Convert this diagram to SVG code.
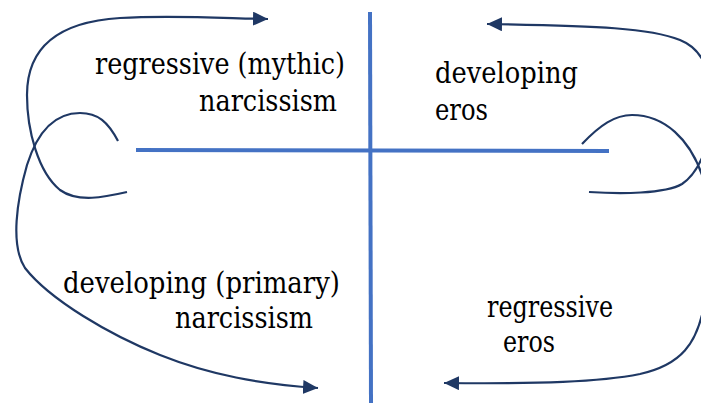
<svg xmlns="http://www.w3.org/2000/svg" width="701" height="403" viewBox="0 0 701 403">
<style>
.axis{stroke:#4472C4;stroke-width:4;fill:none}
.conn{stroke:#1F3864;stroke-width:2.2;fill:none}
text{font-family:'DejaVu Serif','Liberation Serif',serif;font-size:30px;fill:#000}
</style>
<defs>
<marker id="arr" markerUnits="userSpaceOnUse" markerWidth="16" markerHeight="16" refX="15" refY="7" orient="auto">
<path d="M0,0 L15,7 L0,14 Z" fill="#1F3864"/>
</marker>
</defs>
<rect width="701" height="403" fill="#fff"/>
<g id="axes">
<line class="axis" x1="136" y1="150" x2="609" y2="151"/>
<line class="axis" x1="370" y1="12" x2="371" y2="403"/>
</g>
<g id="connectors">
<path class="conn" marker-end="url(#arr)" d="M127,192 C105,197 78,203 60,190 C38,172 27,130 27,95 C27,50 55,22 120,18 C170,15 220,18 268,19"/>
<path class="conn" marker-end="url(#arr)" d="M118,141 C108,122 98,113 80,113 C55,113 38,130 27,165 C17,200 10,245 25,268 C50,300 110,335 160,355 C210,375 260,384 318,388"/>
<path class="conn" marker-end="url(#arr)" d="M589,192 C620,194 665,194 682,184 C700,172 712,140 712,110 C712,75 705,50 680,40 C650,28 600,26 487,24"/>
<path class="conn" marker-end="url(#arr)" d="M582,144 C600,125 615,115 632,115 C665,115 690,140 702,175 C712,210 712,260 705,300 C698,345 680,365 640,374 C600,382 540,384 444,383"/>
</g>
<g id="node-regressive-narcissism">
<text x="95" y="74" textLength="250" lengthAdjust="spacingAndGlyphs">regressive (mythic)</text>
<text x="199" y="111" textLength="138" lengthAdjust="spacingAndGlyphs">narcissism</text>
</g>
<g id="node-developing-eros">
<text x="435" y="83" textLength="143" lengthAdjust="spacingAndGlyphs">developing</text>
<text x="435" y="120" textLength="53" lengthAdjust="spacingAndGlyphs">eros</text>
</g>
<g id="node-developing-narcissism">
<text x="63" y="293" textLength="277" lengthAdjust="spacingAndGlyphs">developing (primary)</text>
<text x="175" y="328" textLength="138" lengthAdjust="spacingAndGlyphs">narcissism</text>
</g>
<g id="node-regressive-eros">
<text x="487" y="317" textLength="126" lengthAdjust="spacingAndGlyphs">regressive</text>
<text x="503" y="352" textLength="52" lengthAdjust="spacingAndGlyphs">eros</text>
</g>
</svg>
